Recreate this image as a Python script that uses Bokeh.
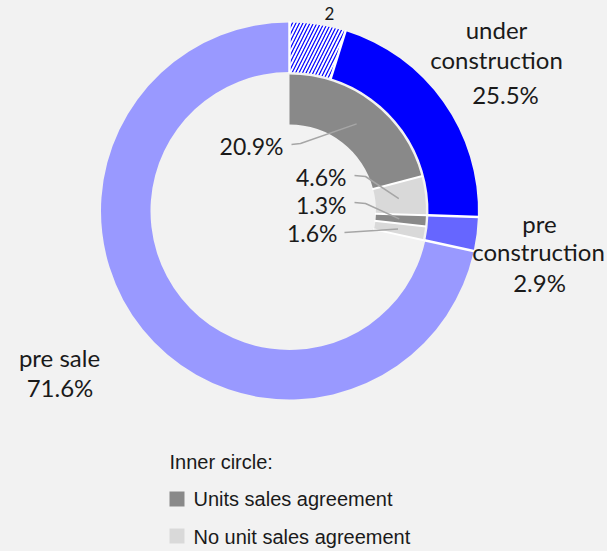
import math
from bokeh.plotting import figure
from bokeh.models import Range1d
from bokeh.embed import file_html
from bokeh.resources import INLINE
from bokeh.core.properties import value

# ---- data ----
outer_categories = ["hatched (2)", "under construction", "pre construction", "pre sale"]
outer_values = [4.8, 20.7, 2.9, 71.6]          # percent, clockwise from 12 o'clock
outer_colors = ["white", "#0000ff", "#6666ff", "#9999ff"]
under_construction_total = 25.5
pre_construction_total = 2.9
pre_sale_total = 71.6

inner_categories = ["Units sales agreement", "No unit sales agreement",
                    "Units sales agreement", "No unit sales agreement"]
inner_values = [20.9, 4.6, 1.3, 1.6]          # percent, clockwise from 12 o'clock
inner_colors = ["#898989", "#d9d9d9", "#898989", "#d9d9d9"]

legend_labels = ["Units sales agreement", "No unit sales agreement"]
legend_colors = ["#898989", "#d9d9d9"]

# ---- layout ----
W, H = 607, 551
p = figure(width=W, height=H, output_backend="svg", toolbar_location=None,
           x_range=Range1d(0, W), y_range=Range1d(0, H),
           min_border=0)
p.axis.visible = False
p.grid.visible = False
p.outline_line_color = None
p.background_fill_color = "#f2f2f2"
p.border_fill_color = "#f2f2f2"

cx, cy = 289, 340.5
OR_IN, OR_OUT = 139, 188.5
IR_IN, IR_OUT = 86.5, 136.5


def wedge_angles(vals):
    starts, ends, mids, bounds = [], [], [], [math.radians(90)]
    cum = 0.0
    for v in vals:
        a0 = cum
        a1 = cum + v
        starts.append(math.radians(90 - a1 * 3.6))
        ends.append(math.radians(90 - a0 * 3.6))
        mids.append(math.radians(90 - (a0 + v / 2) * 3.6))
        bounds.append(math.radians(90 - a1 * 3.6))
        cum = a1
    return starts, ends, mids, bounds


def separators(bounds, r0, r1):
    x0 = [cx + r0 * math.cos(b) for b in bounds]
    y0 = [cy + r0 * math.sin(b) for b in bounds]
    x1 = [cx + r1 * math.cos(b) for b in bounds]
    y1 = [cy + r1 * math.sin(b) for b in bounds]
    return x0, y0, x1, y1


os_, oe_, om_, ob_ = wedge_angles(outer_values)
# solid outer slices
p.annular_wedge(x=[cx] * 3, y=[cy] * 3, inner_radius=OR_IN, outer_radius=OR_OUT,
                start_angle=os_[1:], end_angle=oe_[1:],
                fill_color=outer_colors[1:], line_color=None)
# hatched slice
p.annular_wedge(x=[cx], y=[cy], inner_radius=OR_IN, outer_radius=OR_OUT,
                start_angle=os_[:1], end_angle=oe_[:1],
                fill_color="white", line_color=None,
                hatch_pattern="/", hatch_color="#0000ff", hatch_scale=7,
                hatch_weight=1.2)
x0, y0, x1, y1 = separators(ob_[:-1], OR_IN - 1, OR_OUT + 1)
p.segment(x0=x0, y0=y0, x1=x1, y1=y1, line_color="white", line_width=2.5)

is_, ie_, im_, ib_ = wedge_angles(inner_values)
p.annular_wedge(x=[cx] * 4, y=[cy] * 4, inner_radius=IR_IN, outer_radius=IR_OUT,
                start_angle=is_, end_angle=ie_,
                fill_color=inner_colors, line_color=None)
x0, y0, x1, y1 = separators(ib_[1:], IR_IN - 1, IR_OUT + 1)
p.segment(x0=x0, y0=y0, x1=x1, y1=y1, line_color="white", line_width=2)

# leader lines for inner labels
lead_start = [(291, 407), (354, 376), (354, 349), (344, 319)]
lead_elbow = [(300, 408), (365, 375), (365, 348), (344, 319)]
xs, ys = [], []
for (sx, sy), (ex, ey), m in zip(lead_start, lead_elbow, im_):
    tx = cx + 110 * math.cos(m)
    ty = cy + 110 * math.sin(m)
    xs.append([sx, ex, tx])
    ys.append([sy, ey, ty])
p.multi_line(xs=xs, ys=ys, line_color="#a6a6a6", line_width=1.5)

# inner labels
p.text(x=[283, 346, 346, 337], y=[406, 375, 347, 319],
       text=[f"{v}%" for v in inner_values],
       text_font=value("Lato"), text_font_size="23px", text_color="#1a1a1a",
       text_align="right", text_baseline="middle")

# outer labels
p.text(x=[496, 496, 505, 539, 538, 539, 59, 59.5],
       y=[522, 492, 457, 328, 300, 269, 194, 164],
       text=["under", "construction", f"{under_construction_total}%",
             "pre", "construction", f"{pre_construction_total}%",
             "pre sale", f"{pre_sale_total}%"],
       text_font=value("Lato"), text_font_size="24px", text_color="#1a1a1a",
       text_align="center", text_baseline="middle")
p.text(x=[329], y=[538], text=["2"], text_font=value("Lato"),
       text_font_size="17px", text_color="#1a1a1a",
       text_align="center", text_baseline="middle")

# legend
p.text(x=[169], y=[90], text=["Inner circle:"], text_font=value("Liberation Sans"),
       text_font_size="20px", text_color="#1a1a1a",
       text_align="left", text_baseline="middle")
p.rect(x=[176.5, 176.5], y=[52.5, 15.5], width=15, height=15,
       fill_color=legend_colors, line_color=None)
p.text(x=[193, 193], y=[53, 15], text=legend_labels,
       text_font=value("Liberation Sans"), text_font_size="20px",
       text_color="#1a1a1a", text_align="left", text_baseline="middle")

html = file_html(p, INLINE)
html = html.replace("<head>", "<head><style>body{background:#f2f2f2;}</style>", 1)
open("out.html", "w").write(html)
